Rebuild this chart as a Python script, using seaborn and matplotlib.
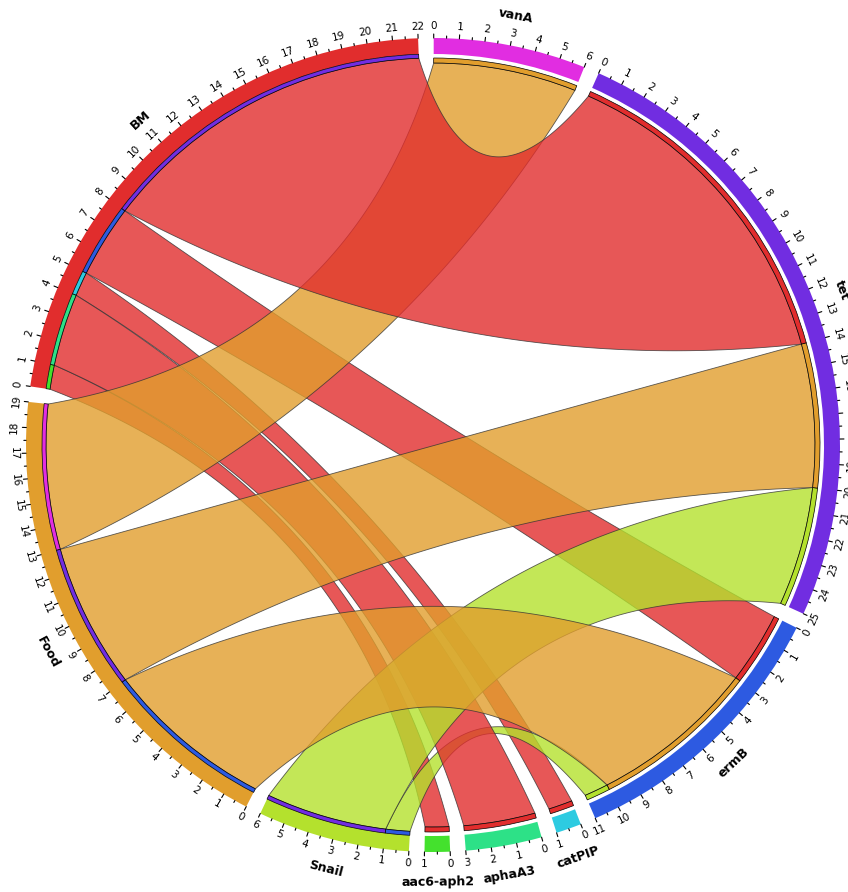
import numpy as np
import matplotlib
matplotlib.use("Agg")
import matplotlib.pyplot as plt
from matplotlib.patches import Wedge
import seaborn as sns

# Sectors in clockwise order, starting at 12 o'clock
sectors = ["vanA", "tet", "ermB", "catPIP", "aphaA3", "aac6-aph2", "Snail", "Food", "BM"]

# Links: source -> resistance gene, with counts
link_from = ["BM", "BM", "BM", "BM", "BM", "Food", "Food", "Food", "Snail", "Snail"]
link_to = ["tet", "ermB", "catPIP", "aphaA3", "aac6-aph2", "vanA", "tet", "ermB", "tet", "ermB"]
link_value = [14, 3, 1, 3, 1, 6, 6, 7, 5, 1]

sns.set_theme(style="white")
plt.rcParams["font.family"] = ["DejaVu Sans"]
plt.rcParams["text.color"] = "black"

# Rainbow hues 0..300 deg, assigned counter-clockwise starting with BM
hue_order = ["BM", "Food", "Snail", "aac6-aph2", "aphaA3", "catPIP", "ermB", "tet", "vanA"]
palette = sns.hls_palette(48, h=0, l=0.53, s=0.75)[::5][:9]
colors = dict(zip(hue_order, palette))

# ---- layout -------------------------------------------------------------
n = len(sectors)
idx = {s: i for i, s in enumerate(sectors)}
totals = {s: sum(v for a, b, v in zip(link_from, link_to, link_value) if s in (a, b))
          for s in sectors}
GAP = 2.2
UNIT = (360 - n * GAP) / sum(totals.values())
start = {}
a = 89.9
for s in sectors:
    start[s] = a
    a -= totals[s] * UNIT + GAP


def ang(s, pos):
    return start[s] - pos * UNIT


R_OUT, R_IN = 407, 391        # sector ring
R_BAR = 387                   # inner edge of proportion bar / source root
R_TGT = 382                   # target root
R_TICKLAB, R_NAME = 419, 437

# slot of each link inside each of its two sectors
slots = {}
for s in sectors:
    ks = [k for k in range(len(link_value)) if s in (link_from[k], link_to[k])]

    def partner(k):
        return link_to[k] if link_from[k] == s else link_from[k]

    ks.sort(key=lambda k: -((idx[partner(k)] - idx[s]) % n))
    p = 0
    for k in ks:
        slots[(k, s)] = (p, p + link_value[k])
        p += link_value[k]


def pol(theta, r):
    t = np.radians(theta)
    return np.array([r * np.cos(t), r * np.sin(t)])


def arc(t0, t1, r, m=80):
    ts = np.radians(np.linspace(t0, t1, m))
    return np.c_[r * np.cos(ts), r * np.sin(ts)]


def edge(p, q, m=160):
    mid = (p + q) / 2
    d = np.linalg.norm(mid)
    nv = -mid / d
    h = min(80.0, 0.31 * d)
    c = mid + 2 * h * nv
    t = np.linspace(0, 1, m)[:, None]
    return (1 - t) ** 2 * p + 2 * t * (1 - t) * c + t ** 2 * q


def rot(theta):
    th = theta % 360
    return th - 90 if th < 180 else th - 270


fig = plt.figure(figsize=(8.48, 8.92), dpi=100)
ax = fig.add_axes([0, 0, 1, 1])
ax.set_xlim(-433, 415)
ax.set_ylim(-447, 445)
ax.axis("off")

# ---- links (largest on top) --------------------------------------------
for k in sorted(range(len(link_value)), key=lambda k: link_value[k]):
    s, t = link_from[k], link_to[k]
    s0, s1 = slots[(k, s)]
    t0, t1 = slots[(k, t)]
    pts = np.vstack([
        arc(ang(s, s0), ang(s, s1), R_BAR),
        edge(pol(ang(s, s1), R_BAR), pol(ang(t, t0), R_TGT)),
        arc(ang(t, t0), ang(t, t1), R_TGT),
        edge(pol(ang(t, t1), R_TGT), pol(ang(s, s0), R_BAR)),
    ])
    ax.fill(pts[:, 0], pts[:, 1], facecolor=colors[s], alpha=0.8,
            edgecolor="#333333", linewidth=0.6, zorder=2)

    # proportion bar in the source sector, coloured by target
    ax.add_patch(Wedge((0, 0), R_IN, ang(s, s1), ang(s, s0), width=R_IN - R_BAR,
                       facecolor=colors[t], edgecolor="black", linewidth=0.5, zorder=5))
    # end strip in the target sector, coloured by source
    ax.add_patch(Wedge((0, 0), R_BAR, ang(t, t1), ang(t, t0), width=R_BAR - R_TGT,
                       facecolor=colors[s], edgecolor="black", linewidth=0.5, zorder=5))

# ---- sector ring, ticks and labels -------------------------------------
for s in sectors:
    tot = totals[s]
    ax.add_patch(Wedge((0, 0), R_OUT, ang(s, tot), start[s], width=R_OUT - R_IN,
                       facecolor=colors[s], edgecolor="none", zorder=4))
    for v in np.arange(0, tot + 0.01, 0.5):
        th = ang(s, v)
        major = float(v).is_integer()
        p0 = pol(th, R_OUT)
        p1 = pol(th, R_OUT + (4 if major else 2.2))
        ax.plot([p0[0], p1[0]], [p0[1], p1[1]], color="black", lw=0.8, zorder=6)
        if major:
            x, y = pol(th, R_TICKLAB)
            ax.text(x, y, str(int(v)), fontsize=7.5, rotation=rot(th),
                    rotation_mode="anchor", ha="center", va="center", zorder=7)
    mid = ang(s, tot / 2)
    x, y = pol(mid, R_NAME)
    ax.text(x, y, s, fontsize=9, fontweight="bold", rotation=rot(mid),
            rotation_mode="anchor", ha="center", va="center", zorder=7)

fig.savefig("out.png", dpi=100)
